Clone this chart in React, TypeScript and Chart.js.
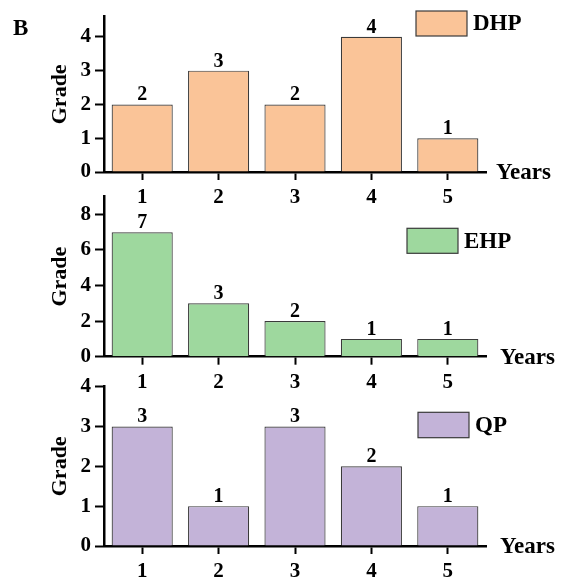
import React, { useEffect, useRef } from "react";
import { Chart, registerables } from "chart.js";

Chart.register(...registerables);

const FONT = '"Liberation Serif", "Times New Roman", serif';

// ---- data ----
const years = ["1", "2", "3", "4", "5"];
const dhpValues = [2, 3, 2, 4, 1];
const ehpValues = [7, 3, 2, 1, 1];
const qpValues = [3, 1, 3, 2, 1];
const seriesNames = ["DHP", "EHP", "QP"];
const yMaxes = [4.6, 9, 4];
const ySteps = [1, 2, 1];
const yTitle = "Grade";
const xTitle = "Years";
const panelLetter = "B";

type PanelProps = {
  name: string;
  values: number[];
  fill: string;
  yMax: number;
  yStep: number;
  top: number;
  height: number;
  areaTop: number;
  areaBottom: number;
  legend: { x: number; y: number; w: number; h: number; tx: number };
  yearsX: number;
  letter?: string;
};

const W = 569;
const AREA_LEFT = 104;
const AREA_RIGHT = 486;

function Panel(p: PanelProps) {
  const ref = useRef<HTMLCanvasElement | null>(null);
  useEffect(() => {
    const canvas = ref.current;
    if (!canvas) return;
    const overlay = {
      id: "overlay",
      afterDatasetsDraw(chart: any) {
        const ctx = chart.ctx;
        ctx.save();
        // value labels
        const meta = chart.getDatasetMeta(0);
        ctx.fillStyle = "#000";
        ctx.font = `bold 20px ${FONT}`;
        ctx.textAlign = "center";
        ctx.textBaseline = "alphabetic";
        meta.data.forEach((el: any, i: number) => {
          ctx.fillText(String(chart.data.datasets[0].data[i]), el.x, el.y - 4);
        });
        // legend
        const lg = p.legend;
        ctx.fillStyle = p.fill;
        ctx.fillRect(lg.x, lg.y, lg.w, lg.h);
        ctx.strokeStyle = "#3a3a3a";
        ctx.lineWidth = 1.2;
        ctx.strokeRect(lg.x, lg.y, lg.w, lg.h);
        ctx.fillStyle = "#000";
        ctx.font = `bold 23px ${FONT}`;
        ctx.textAlign = "left";
        ctx.textBaseline = "middle";
        ctx.fillText(chart.data.datasets[0].label, lg.tx, lg.y + lg.h / 2 + 1);
        // Years
        const xs = chart.scales.x;
        ctx.font = `bold 23px ${FONT}`;
        ctx.fillText(xTitle, p.yearsX, xs.top + 1);
        if (p.letter) {
          ctx.font = `bold 23px ${FONT}`;
          ctx.fillText(p.letter, 13, 29);
        }
        ctx.restore();
      },
    };
    const chart = new Chart(canvas, {
      type: "bar",
      data: {
        labels: years,
        datasets: [
          {
            label: p.name,
            data: p.values,
            backgroundColor: p.fill,
            borderColor: "#3a3a3a",
            borderWidth: 1.2,
            barPercentage: 0.8,
            categoryPercentage: 1,
          },
        ],
      },
      options: {
        responsive: false,
        animation: false,
        devicePixelRatio: 1,
        layout: { padding: { left: 0, right: W - AREA_RIGHT, top: p.areaTop, bottom: 0 } },
        plugins: { legend: { display: false }, tooltip: { enabled: false } },
        scales: {
          x: {
            type: "category",
            offset: true,
            grid: {
              display: true,
              drawOnChartArea: false,
              drawTicks: true,
              tickLength: 8,
              tickWidth: 2,
              tickColor: "#000",
              offset: false,
            },
            border: { display: true, color: "#000", width: 2.5 },
            ticks: {
              color: "#000",
              font: { family: FONT, size: 21, weight: "bold" },
              padding: 5,
              maxRotation: 0,
              autoSkip: false,
            },
            afterFit: (s: any) => {
              s.height = p.height - p.areaBottom;
            },
          },
          y: {
            min: 0,
            max: p.yMax,
            grid: {
              display: true,
              drawOnChartArea: false,
              drawTicks: true,
              tickLength: 9,
              tickWidth: 2,
              tickColor: "#000",
            },
            border: { display: true, color: "#000", width: 2.5 },
            ticks: {
              stepSize: p.yStep,
              includeBounds: false,
              color: "#000",
              font: { family: FONT, size: 21, weight: "bold" },
              padding: 4,
            },
            title: {
              display: true,
              text: yTitle,
              color: "#000",
              font: { family: FONT, size: 22, weight: "bold" },
              padding: { top: 47, bottom: 0 },
            },
            afterFit: (s: any) => {
              s.width = AREA_LEFT;
            },
          },
        },
      } as any,
      plugins: [overlay],
    });
    return () => chart.destroy();
  }, []);
  return (
    <canvas
      ref={ref}
      width={W}
      height={p.height}
      style={{ position: "absolute", left: 0, top: p.top, width: W, height: p.height }}
    />
  );
}

export default function App() {
  return (
    <div style={{ position: "absolute", left: 0, top: 0, width: W, height: 585, background: "#fff", overflow: "hidden" }}>
      <Panel
        name={seriesNames[0]}
        values={dhpValues}
        fill="#FAC498"
        yMax={yMaxes[0]}
        yStep={ySteps[0]}
        top={0}
        height={215}
        areaTop={7}
        areaBottom={172}
        legend={{ x: 416, y: 11, w: 51, h: 25, tx: 473 }}
        yearsX={496}
        letter={panelLetter}
      />
      <Panel
        name={seriesNames[1]}
        values={ehpValues}
        fill="#9ED89E"
        yMax={yMaxes[1]}
        yStep={ySteps[1]}
        top={180}
        height={220}
        areaTop={13}
        areaBottom={176.7}
        legend={{ x: 407, y: 48.3, w: 51, h: 25, tx: 464 }}
        yearsX={500}
      />
      <Panel
        name={seriesNames[2]}
        values={qpValues}
        fill="#C3B3D8"
        yMax={yMaxes[2]}
        yStep={ySteps[2]}
        top={370}
        height={215}
        areaTop={14}
        areaBottom={176}
        legend={{ x: 418, y: 42.3, w: 51, h: 25.4, tx: 475 }}
        yearsX={500}
      />
    </div>
  );
}
